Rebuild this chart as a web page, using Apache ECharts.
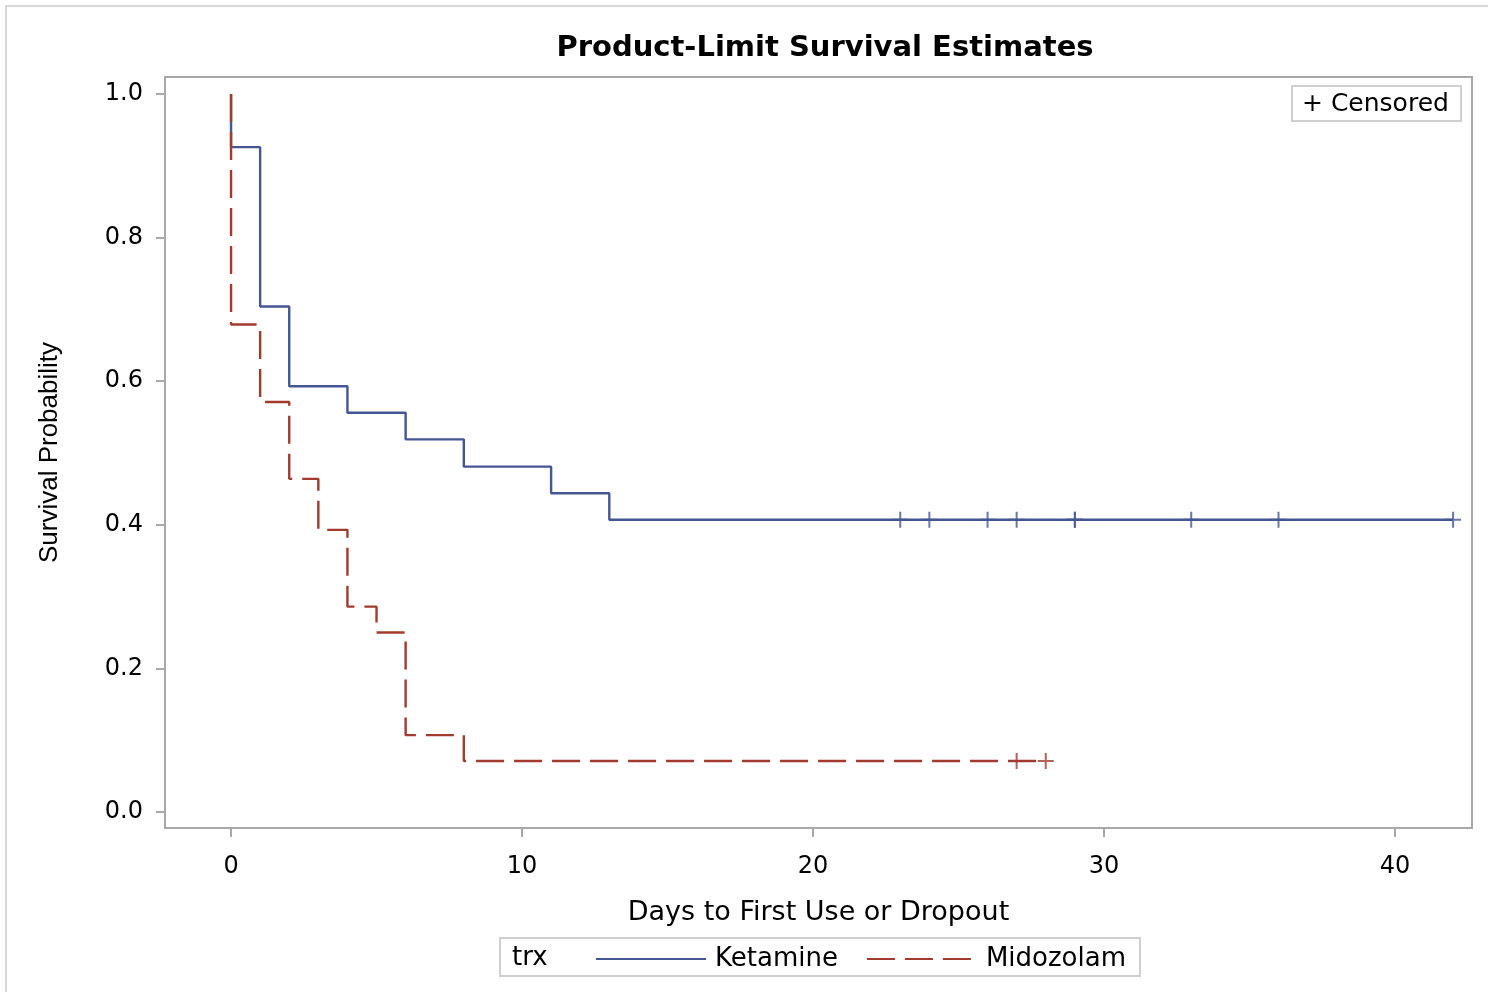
<!DOCTYPE html>
<html><head><meta charset="utf-8">
<script src="https://cdn.jsdelivr.net/npm/echarts@6/dist/echarts.min.js"></script>
<style>html,body{margin:0;padding:0;background:#fff}#c{width:1488px;height:992px}</style>
</head><body><div id="c"></div><script>
// Kaplan-Meier step data
const ketTimes = [0, 0, 1, 2, 4, 6, 8, 11, 13, 42];
const ketSurv  = [1, 0.926, 0.704, 0.593, 0.556, 0.519, 0.481, 0.444, 0.407, 0.407];
const midTimes = [0, 0, 1, 2, 3, 4, 5, 6, 8, 28];
const midSurv  = [1, 0.679, 0.571, 0.464, 0.393, 0.286, 0.25, 0.107, 0.071, 0.071];
const ketCensTimes = [23, 24, 26, 27, 29, 29, 33, 36, 42];
const ketCensSurv  = 0.407;
const midCensTimes = [27, 28];
const midCensSurv  = 0.071;
const xTicks = [0, 10, 20, 30, 40];
const yTicks = [0, 0.2, 0.4, 0.6, 0.8, 1.0];
const groups = ['Ketamine', 'Midozolam'];

const BLUE = '#445694', RED = '#A23A2E', GRAY = '#a8a8a8';
const FONT = 'DejaVu Sans';
const plus = 'path://M7,0H9V16H7Z M0,7H16V9H0Z';

const zip = (a, b) => a.map((v, i) => [v, b[i]]);

const chart = echarts.init(document.getElementById('c'), null, {renderer: 'canvas'});
chart.setOption({
  animation: false,
  backgroundColor: '#fff',
  title: {
    text: 'Product-Limit Survival Estimates',
    left: 820, top: 29, textAlign: 'center',
    textStyle: {fontFamily: FONT, fontWeight: 'bold', fontSize: 29, color: '#000'}
  },
  grid: {left: 165, top: 77, right: 16, bottom: 164, show: true, borderColor: GRAY, borderWidth: 2},
  xAxis: {
    type: 'value', min: -2.27, max: 42.65,
    name: 'Days to First Use or Dropout', nameLocation: 'middle', nameGap: 71,
    nameTextStyle: {fontFamily: FONT, fontSize: 27, color: '#000'},
    axisLine: {show: false, onZero: false},
    axisTick: {show: true, customValues: xTicks, length: 9, lineStyle: {color: GRAY, width: 2}},
    axisLabel: {customValues: xTicks, margin: 27, fontFamily: FONT, fontSize: 24, color: '#000'},
    splitLine: {show: false}
  },
  yAxis: {
    type: 'value', min: -0.0223, max: 1.0237,
    name: 'Survival Probability', nameLocation: 'middle', nameGap: 102, nameRotate: 90,
    nameTextStyle: {fontFamily: 'Liberation Sans', fontSize: 26, color: '#000'},
    axisLine: {show: false, onZero: false},
    axisTick: {show: true, customValues: yTicks, length: 9, lineStyle: {color: GRAY, width: 2}},
    axisLabel: {customValues: yTicks, margin: 22, fontFamily: FONT, fontSize: 24, color: '#000',
      formatter: v => v.toFixed(1)},
    splitLine: {show: false}
  },
  legend: {
    data: groups, left: 590, top: 941, itemWidth: 110, itemHeight: 14, itemGap: 28,
    itemStyle: {opacity: 0},
    textStyle: {fontFamily: FONT, fontSize: 26, color: '#000', padding: [0, 0, 0, 4]},
    selectedMode: false
  },
  series: [
    {name: groups[0], type: 'line', step: 'end', symbol: 'none', data: zip(ketTimes, ketSurv),
     lineStyle: {color: BLUE, width: 2.4}, itemStyle: {color: BLUE}, z: 2},
    {name: groups[1], type: 'line', step: 'end', symbol: 'none', data: zip(midTimes, midSurv),
     lineStyle: {color: RED, width: 2.4, type: [28, 10]}, itemStyle: {color: RED}, z: 3},
    {name: 'kc', type: 'scatter', symbol: plus, symbolSize: [16, 16],
     data: ketCensTimes.map(t => [t, ketCensSurv]), itemStyle: {color: BLUE}, z: 4},
    {name: 'mc', type: 'scatter', symbol: plus, symbolSize: [16, 16],
     data: midCensTimes.map(t => [t, midCensSurv]), itemStyle: {color: RED}, z: 4}
  ],
  graphic: [
    {type: 'rect', shape: {x: 6, y: 6, width: 1600, height: 1100}, style: {fill: 'none', stroke: '#d8d8d8', lineWidth: 2}, silent: true, z: -10},
    {type: 'rect', shape: {x: 1292, y: 86, width: 169, height: 35}, style: {fill: '#fff', stroke: '#cfcfcf', lineWidth: 2}, z: 10},
    {type: 'text', x: 1302, y: 104, style: {text: '+ Censored', fontFamily: FONT, fontSize: 25, fill: '#000', verticalAlign: 'middle'}, z: 11},
    {type: 'rect', shape: {x: 500, y: 938, width: 640, height: 38}, style: {fill: 'none', stroke: '#cfcfcf', lineWidth: 2}, z: 10},
    {type: 'text', x: 512, y: 958, style: {text: 'trx', fontFamily: FONT, fontSize: 26, fill: '#000', verticalAlign: 'middle'}, z: 11}
  ]
});
</script></body></html>
